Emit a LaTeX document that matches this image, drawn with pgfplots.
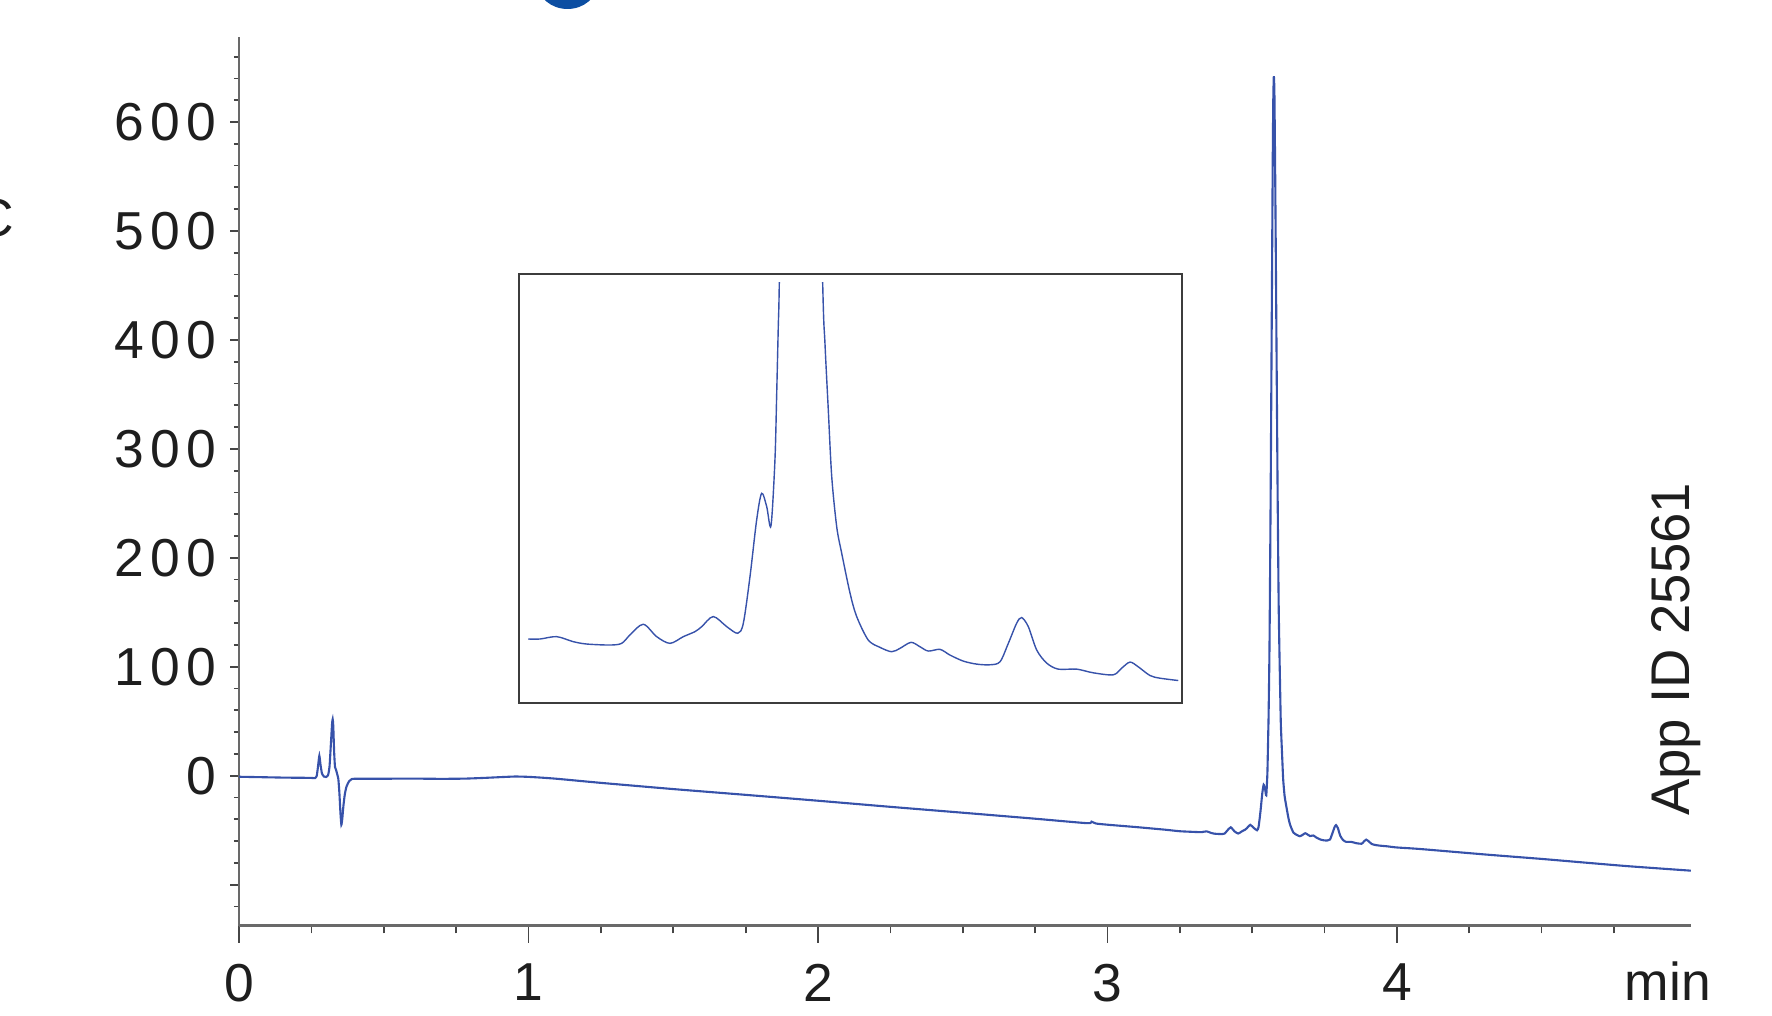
\documentclass[border=0pt]{standalone}
\usepackage{fontspec}
\setmainfont{Liberation Sans}
\newfontfamily\tickfont[LetterSpace=12]{Liberation Sans}
\usepackage{pgfplots}
\pgfplotsset{compat=1.18}
\usepackage{pgfplotstable}
\definecolor{trace}{RGB}{55,82,170}
\definecolor{axgray}{RGB}{105,105,105}
\definecolor{tickgray}{RGB}{70,70,70}
\definecolor{framegray}{RGB}{60,60,60}
\definecolor{txt}{RGB}{30,30,30}
\definecolor{logoblue}{RGB}{12,78,162}
\pgfplotstableread{
x y
0.000 -1.0
0.080 -1.4
0.160 -1.8
0.245 -2.0
0.262 -2.2
0.268 0.0
0.273 10.0
0.277 18.3
0.281 10.0
0.286 2.0
0.293 -0.8
0.300 -1.2
0.307 0.5
0.312 8.0
0.317 30.0
0.321 48.0
0.323 51.7
0.325 46.0
0.328 22.0
0.331 8.0
0.335 5.0
0.339 1.0
0.3425 -3.0
0.346 -15.0
0.350 -35.0
0.353 -45.0
0.356 -40.0
0.360 -28.0
0.365 -17.0
0.371 -9.8
0.380 -5.0
0.389 -3.1
0.406 -2.8
0.500 -2.8
0.600 -2.7
0.700 -2.9
0.780 -2.7
0.850 -2.0
0.950 -0.8
1.000 -1.1
1.050 -1.9
1.100 -2.9
1.250 -6.6
1.500 -12.3
1.750 -17.6
2.000 -23.0
2.250 -28.6
2.500 -34.0
2.750 -39.5
2.930 -43.6
2.945 -42.2
2.960 -43.9
3.000 -45.0
3.100 -47.2
3.200 -49.6
3.250 -51.0
3.3154 -51.8
3.3267 -51.8
3.3427 -51.1
3.3587 -52.6
3.3716 -53.3
3.3940 -53.6
3.4052 -53.1
3.4132 -50.6
3.4260 -47.4
3.4389 -51.1
3.4517 -53.1
3.4645 -51.1
3.4757 -49.6
3.4822 -48.1
3.4933 -45.1
3.5062 -48.1
3.5168 -50.1
3.5222 -47.1
3.5286 -33.2
3.5350 -16.3
3.5398 -8.3
3.5447 -12.3
3.5488 -18.0
3.5526 1.6
3.5543 21.6
3.5558 41.4
3.5568 54.6
3.5600 120
3.5640 260
3.5680 430
3.5710 560
3.5730 620
3.5750 642
3.5770 625
3.5800 540
3.5840 400
3.5880 260
3.5920 150
3.5985 54.6
3.6007 36.5
3.6039 16.6
3.6072 -3.3
3.6120 -18.3
3.6168 -26.2
3.6248 -38.1
3.6312 -45.1
3.6423 -52.1
3.6536 -54.3
3.6648 -55.6
3.6728 -54.6
3.6834 -52.8
3.6920 -54.1
3.7000 -55.4
3.7113 -54.9
3.7209 -56.6
3.7337 -58.4
3.7466 -59.3
3.7594 -59.5
3.7690 -58.6
3.7770 -53.1
3.7850 -47.1
3.7898 -45.4
3.7962 -48.1
3.8043 -55.1
3.8139 -59.0
3.8250 -60.8
3.8427 -60.8
3.8587 -61.9
3.8779 -62.5
3.8860 -60.5
3.8940 -58.7
3.9019 -60.1
3.9132 -62.7
3.9228 -63.5
3.9404 -64.2
3.9650 -64.8
4.0000 -65.9
4.0800 -67.3
4.3130 -72.5
4.5000 -76.4
4.6550 -79.9
4.8000 -83.1
5.0160 -87.2
}\chrom
\begin{document}
\begin{tikzpicture}
\useasboundingbox (0,0) rectangle (17.72cm,10.16cm);
\clip (0,0) rectangle (17.72cm,10.16cm);
\fill[logoblue] (5.675cm,10.33cm) ellipse [x radius=0.30cm, y radius=0.26cm];
\node[anchor=east, inner sep=0pt, text=txt, font=\fontsize{15.2}{18}\selectfont] at (0.15cm,7.98cm) {nC};
% x axis with its own tick lengths
\begin{axis}[at={(2.392cm,0.903cm)}, anchor=south west, scale only axis,
  width=14.517cm, height=8.89cm,
  xmin=0, xmax=5.016, ymin=-137.7, ymax=678.3,
  axis x line=bottom, axis y line=none,
  axis line style={-, draw=axgray, line width=0.7pt},
  xtick={0,1,2,3,4}, xticklabels={0,1,2,3,4},
  minor xtick={0.25,0.5,...,4.75},
  ytick=\empty,
  tick align=outside, major tick length=0.17cm, minor tick length=0.077cm,
  tick style={draw=tickgray, line width=0.5pt},
  xticklabel style={font=\tickfont\fontsize{15.2}{18}\selectfont, text=txt, anchor=north, inner sep=0pt, yshift=-0.205cm},
  xlabel={min},
  xlabel style={at={(rel axis cs:0.9842,0)}, anchor=base, yshift=-0.753cm, font=\fontsize{15.2}{18}\selectfont, text=txt, inner sep=0pt},
]
\end{axis}
% y axis and data
\begin{axis}[at={(2.392cm,0.903cm)}, anchor=south west, scale only axis,
  width=14.517cm, height=8.89cm,
  xmin=0, xmax=5.016, ymin=-137.7, ymax=678.3,
  axis y line=left, axis x line=none,
  axis line style={-, draw=axgray, line width=0.5pt},
  xtick=\empty,
  ytick={-100,0,100,200,300,400,500,600}, yticklabels={{},0,100,200,300,400,500,600},
  minor ytick={-120,-100,...,660},
  tick align=outside, major tick length=0.09cm, minor tick length=0.054cm,
  tick style={draw=tickgray, line width=0.5pt},
  yticklabel style={font=\tickfont\fontsize{15.2}{18}\selectfont, text=txt, anchor=east, inner sep=0pt, xshift=-0.135cm},
]
\addplot[trace, line width=0.6pt, smooth, tension=0.35] table[x=x,y=y]{\chrom};
\end{axis}
% inset frame
\begin{axis}[at={(5.193cm,3.127cm)}, anchor=south west, scale only axis,
  width=6.624cm, height=4.293cm,
  xmin=0, xmax=1, ymin=0, ymax=1, xtick=\empty, ytick=\empty,
  axis line style={draw=framegray, line width=0.6pt}]
\end{axis}
% inset data
\begin{axis}[at={(5.193cm,3.127cm)}, anchor=south west, scale only axis,
  width=6.624cm, height=4.206cm,
  xmin=3.3068, xmax=3.9437, ymin=-71.0, ymax=54.6, hide axis, clip=true]
\addplot[trace, line width=0.4pt, smooth, tension=0.5, restrict x to domain=3.315:3.941] table[x=x,y=y]{\chrom};
\end{axis}
\node[rotate=90, anchor=base west, inner sep=0pt, text=txt, font=\fontsize{15.5}{18}\selectfont] at (16.89cm,1.993cm) {App ID 25561};
\end{tikzpicture}
\end{document}
